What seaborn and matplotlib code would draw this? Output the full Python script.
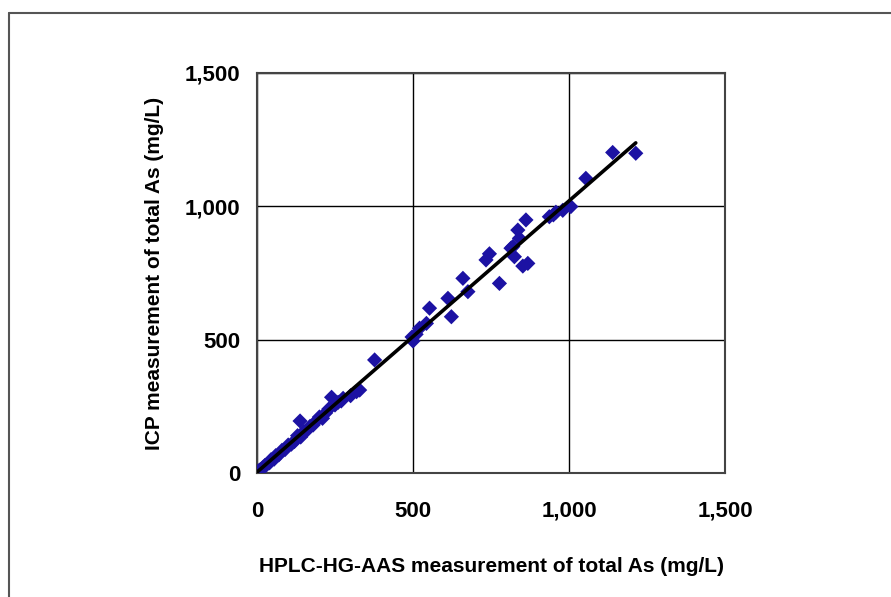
import matplotlib
matplotlib.use("Agg")
import matplotlib.pyplot as plt
import seaborn as sns
import pandas as pd
from matplotlib.lines import Line2D
from matplotlib.ticker import FuncFormatter

# HPLC-HG-AAS (x) vs ICP (y) total As, mg/L
hplc = [0, 5, 10, 15, 20, 25, 30, 40, 45, 55, 60, 70, 80, 90, 100, 110, 120,
        130, 140, 138, 150, 160, 170, 180, 190, 200, 210, 220, 230, 239, 250,
        260, 270, 276, 300, 319, 329, 377,
        497, 500, 510, 521, 543, 553, 612, 623, 660, 676,
        734, 745, 777, 814, 820, 825, 836, 841, 852, 862, 868,
        937, 950, 958, 980, 1006, 1054, 1140, 1214]
icp = [0, 8, 12, 14, 22, 28, 30, 38, 50, 52, 65, 68, 85, 88, 105, 108, 118,
       140, 135, 195, 155, 160, 175, 180, 195, 210, 205, 225, 240, 284, 255,
       265, 270, 280, 290, 305, 311, 424,
       510, 495, 520, 543, 561, 618, 655, 586, 730, 680,
       799, 822, 711, 843, 849, 811, 911, 880, 776, 949, 786,
       961, 968, 978, 985, 999, 1105, 1202, 1199]

df = pd.DataFrame({"hplc": hplc, "icp": icp})

sns.set_style("white")
plt.rcParams["font.family"] = ["Liberation Sans", "DejaVu Sans"]

fig = plt.figure(figsize=(8.91, 5.97), dpi=100)
ax = fig.add_axes([257 / 891, 124 / 597, 468 / 891, 400 / 597])

sns.scatterplot(data=df, x="hplc", y="icp", marker="D", s=60, color="#1c12a3",
                edgecolor="none", ax=ax, zorder=3)
sns.regplot(data=df, x="hplc", y="icp", scatter=False, ci=None, ax=ax,
            line_kws={"color": "black", "lw": 2.6, "zorder": 4})

ax.set_xlim(0, 1500)
ax.set_ylim(0, 1500)
ax.set_xticks([0, 500, 1000, 1500])
ax.set_yticks([0, 500, 1000, 1500])
fmt = FuncFormatter(lambda v, p: f"{int(v):,}")
ax.xaxis.set_major_formatter(fmt)
ax.yaxis.set_major_formatter(fmt)
ax.grid(True, color="black", lw=1)
ax.set_axisbelow(True)
for s in ax.spines.values():
    s.set_color("#444444")
    s.set_linewidth(1.5)
ax.tick_params(length=0, labelsize=16, labelcolor="black")
ax.tick_params(axis="x", pad=20)
ax.tick_params(axis="y", pad=12)
for lbl in ax.get_xticklabels() + ax.get_yticklabels():
    lbl.set_fontweight("bold")

ax.set_xlabel("HPLC-HG-AAS measurement of total As (mg/L)", fontsize=15,
              fontweight="bold", labelpad=25, color="black")
ax.set_ylabel("ICP measurement of total As (mg/L)", fontsize=15,
              fontweight="bold", labelpad=15, color="black")

# outer frame of the figure panel
fig.add_artist(Line2D([9 / 891, 9 / 891], [0, 1 - 13 / 597], color="#555555",
                      lw=1.5, transform=fig.transFigure))
fig.add_artist(Line2D([9 / 891, 1], [1 - 13 / 597, 1 - 13 / 597], color="#555555",
                      lw=1.5, transform=fig.transFigure))

fig.savefig("out.png", dpi=100)
